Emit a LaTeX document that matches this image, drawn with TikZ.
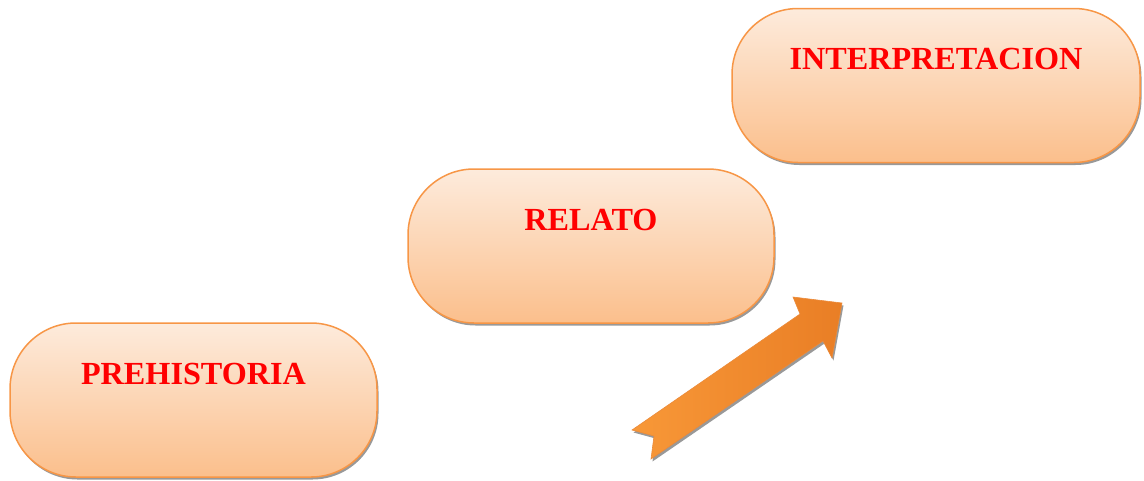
\documentclass[tikz,border=0pt]{standalone}
\usepackage{fontspec}
\setmainfont{Liberation Serif}
\usetikzlibrary{shadows}
\definecolor{boxborder}{HTML}{F79646}
\definecolor{boxtop}{HTML}{FDEBDC}
\definecolor{boxbottom}{HTML}{FBBF8C}
\definecolor{arrowlight}{HTML}{F89838}
\definecolor{arrowdark}{HTML}{E97E25}
\definecolor{stagered}{HTML}{FF0000}
\tikzset{
  stagebox/.style={draw=boxborder, line width=1.5pt, rounded corners=66pt,
    top color=boxtop, bottom color=boxbottom, minimum height=154pt,
    inner sep=0pt, drop shadow={shadow xshift=1.5pt, shadow yshift=-2.5pt, fill=gray!80, opacity=1}},
  stagetext/.style={text=stagered, font=\fontsize{32.2}{36}\selectfont\bfseries, anchor=base, inner sep=0pt},
  bigarrow/.style={draw=arrowdark!90, line width=0.6pt, left color=arrowlight, right color=arrowdark,
    drop shadow={shadow xshift=1.5pt, shadow yshift=-2.5pt, fill=gray!80, opacity=1}}
}
\begin{document}
\begin{tikzpicture}[x=1pt,y=-1pt]
\useasboundingbox (0,0) rectangle (1144,480);
\node[stagebox, minimum width=367pt] (pre) at (193.5,400) {};
\node[stagetext] (preT) at (193.5,384) {PREHISTORIA};
\node[stagebox, minimum width=366pt] (rel) at (591,246) {};
\node[stagetext] (relT) at (591,230) {RELATO};
\node[stagebox, minimum width=408pt] (int) at (936,85.5) {};
\node[stagetext] (intT) at (936,69.5) {INTERPRETACION};
\coordinate (tailA) at (632,430);
\coordinate (shaftA) at (800,314);
\coordinate (headA) at (793,297);
\coordinate (tip) at (842,303);
\coordinate (headB) at (832,358);
\coordinate (shaftB) at (823,341);
\coordinate (tailB) at (651,459);
\coordinate (notch) at (654,436);
\path[bigarrow] (tailA) -- (shaftA) -- (headA) -- (tip) -- (headB) -- (shaftB) -- (tailB) -- (notch) -- cycle;
\end{tikzpicture}
\end{document}
